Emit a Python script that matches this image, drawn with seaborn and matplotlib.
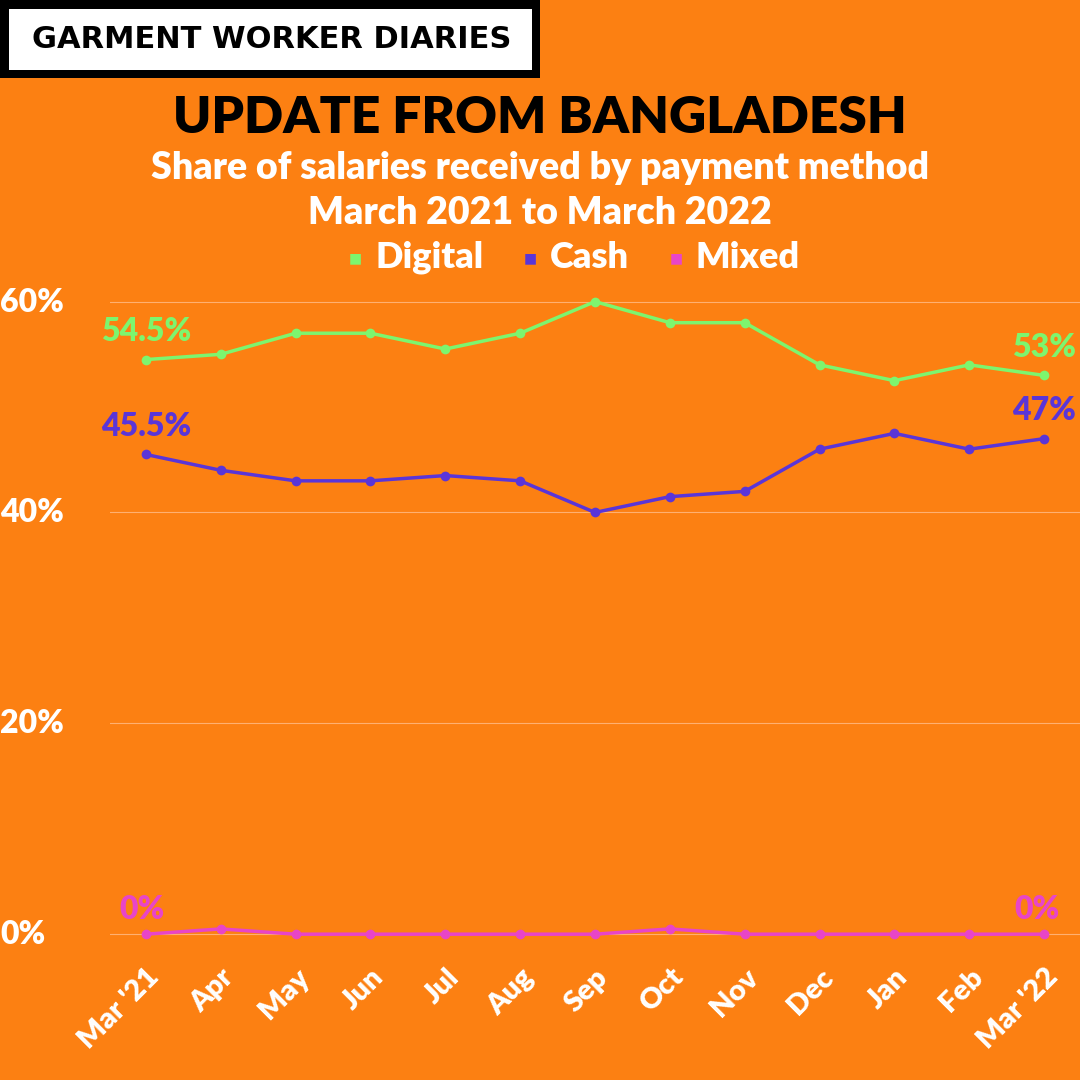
import matplotlib
matplotlib.use("Agg")
import matplotlib.pyplot as plt
import matplotlib.patches as mpatches
import seaborn as sns
import pandas as pd

months = ["Mar '21","Apr","May","Jun","Jul","Aug","Sep","Oct","Nov","Dec","Jan","Feb","Mar '22"]
digital = [54.5,55,57,57,55.5,57,60,58,58,54,52.5,54,53]
cash = [45.5,44,43,43,43.5,43,40,41.5,42,46,47.5,46,47]
mixed = [0,0.5,0,0,0,0,0,0.5,0,0,0,0,0]
series_names = ["Digital","Cash","Mixed"]
colors = {"Digital":"#7DF56E","Cash":"#5A35D8","Mixed":"#E845C8"}
BG = "#FC8012"

rows = []
for name, vals in zip(series_names, [digital, cash, mixed]):
    for i, v in enumerate(vals):
        rows.append({"idx": i, "value": v, "series": name})
df = pd.DataFrame(rows)

fig = plt.figure(figsize=(10.8,10.8), dpi=100, facecolor=BG)
ax = fig.add_axes([110/1080, 1-950/1080, 1-110/1080, 660/1080])
ax.set_facecolor(BG)
sns.lineplot(data=df, x="idx", y="value", hue="series", palette=colors, marker="o",
             markersize=7, markeredgewidth=0, linewidth=2.5, ax=ax, legend=False)
ax.set_xlim(-0.48, 12.48)
ax.set_ylim(-1.5, 61.1)
ax.set_yticks([0,20,40,60])
ax.set_yticklabels([])
for v in [0,20,40,60]:
    ax.axhline(v, color="#FFB070", lw=0.8, zorder=0)
    fig.text(0, 1-(934-v*10.53)/1080, f"{v}%", color="white", fontsize=23,
             fontweight="black", family="Lato", ha="left", va="center")
ax.tick_params(axis="y", length=0)
ax.set_xticks(range(len(months)))
ax.set_xticklabels(months, rotation=45, ha="right", rotation_mode="anchor",
                   color="white", fontsize=21, fontweight="black", family="Lato")
ax.tick_params(axis="x", length=0, pad=10)
ax.set_xlabel(""); ax.set_ylabel("")
for s in ax.spines.values():
    s.set_visible(False)

lab = dict(fontsize=23, fontweight="black", family="Lato")
ax.text(0, digital[0]+1.3, f"{digital[0]}%", color=colors["Digital"], ha="center", va="bottom", **lab)
ax.text(12, digital[-1]+1.3, f"{digital[-1]}%", color=colors["Digital"], ha="center", va="bottom", **lab)
ax.text(0, cash[0]+1.3, f"{cash[0]}%", color=colors["Cash"], ha="center", va="bottom", **lab)
ax.text(12, cash[-1]+1.3, f"{cash[-1]}%", color=colors["Cash"], ha="center", va="bottom", **lab)
ax.text(-0.05, mixed[0]+1.0, f"{mixed[0]}%", color=colors["Mixed"], ha="center", va="bottom", **lab)
ax.text(11.9, mixed[-1]+1.0, f"{mixed[-1]}%", color=colors["Mixed"], ha="center", va="bottom", **lab)

# header box
fig.patches.append(mpatches.Rectangle((0, 1-78/1080), 540/1080, 78/1080, transform=fig.transFigure,
                                      facecolor="black", edgecolor="none", zorder=0))
fig.patches.append(mpatches.Rectangle((9/1080, 1-70/1080), 523/1080, 61/1080, transform=fig.transFigure,
                                      facecolor="white", edgecolor="none", zorder=0))
fig.text(272/1080, 1-40/1080, "GARMENT WORKER DIARIES",
         color="black", fontsize=22, fontweight="bold", family="DejaVu Sans", ha="center", va="center",
         zorder=5)

fig.text(540/1080, 1-118/1080, "UPDATE FROM BANGLADESH", color="black", fontsize=37,
         fontweight="black", family="Lato", ha="center", va="center")
fig.text(540/1080, 1-168/1080, "Share of salaries received by payment method", color="white",
         fontsize=27, fontweight="black", family="Lato", ha="center", va="center")
fig.text(540/1080, 1-213/1080, "March 2021 to March 2022", color="white",
         fontsize=27, fontweight="black", family="Lato", ha="center", va="center")
for name, xt in zip(series_names, [355, 530, 676]):
    fig.text(xt/1080, 1-258/1080, "\u25A0", color=colors[name], fontsize=10, ha="center", va="center")
    fig.text((xt+20)/1080, 1-257/1080, name, color="white", fontsize=26, fontweight="black",
             family="Lato", ha="left", va="center")

fig.savefig("out.png", dpi=100, facecolor=BG)
